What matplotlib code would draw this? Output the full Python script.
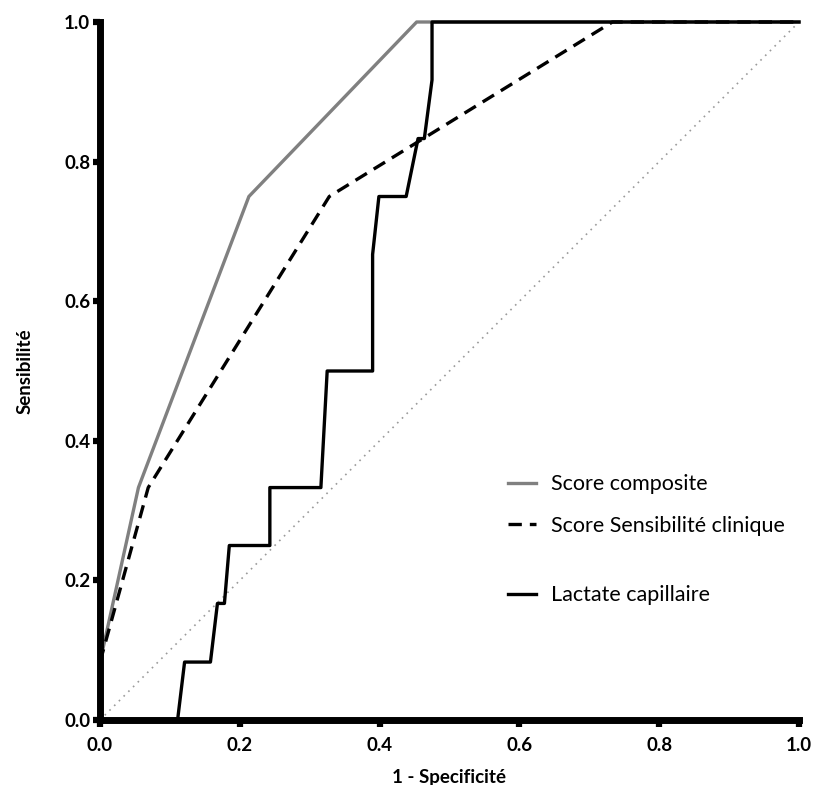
import numpy as np
import matplotlib
matplotlib.use("Agg")
import matplotlib.pyplot as plt

plt.rcParams['font.family'] = ['Lato', 'DejaVu Sans']

# ROC curves (1 - specificity, sensitivity)
composite_x = [0.0, 0.055, 0.213, 0.453, 1.0]
composite_y = [0.083, 0.333, 0.75, 1.0, 1.0]

clinique_x = [0.0, 0.069, 0.328, 0.733, 1.0]
clinique_y = [0.083, 0.333, 0.75, 1.0, 1.0]

lactate_x = [0.111, 0.121, 0.158, 0.168, 0.178, 0.185, 0.243, 0.243, 0.316, 0.325,
             0.390, 0.390, 0.399, 0.438, 0.455, 0.464, 0.475, 0.475, 1.0]
lactate_y = [0.0, 0.083, 0.083, 0.167, 0.167, 0.25, 0.25, 0.333, 0.333, 0.5,
             0.5, 0.667, 0.75, 0.75, 0.833, 0.833, 0.917, 1.0, 1.0]

ref_line = [0.0, 1.0]
ticks = [0.0, 0.2, 0.4, 0.6, 0.8, 1.0]
tick_labels = ['0.0', '0.2', '0.4', '0.6', '0.8', '1.0']

W, H = 818, 785
fig = plt.figure(figsize=(W / 100, H / 100), dpi=100)
ax = fig.add_axes([100 / W, (H - 720) / H, 699 / W, 698 / H])

ax.plot(ref_line, ref_line, color='#9a9a9a', lw=1.2, linestyle=(0, (1, 3)), clip_on=False)
l1, = ax.plot(composite_x, composite_y, color='#808080', lw=2.4, clip_on=False,
              label='Score composite')
l2, = ax.plot(clinique_x, clinique_y, color='black', lw=2.4, dashes=(4, 2.4), clip_on=False,
              label='Score Sensibilité clinique')
l3, = ax.plot(lactate_x, lactate_y, color='black', lw=2.4, clip_on=False,
              label='Lactate capillaire')

ax.set_xlim(0, 1)
ax.set_ylim(0, 1)
ax.set_xticks(ticks)
ax.set_yticks(ticks)
ax.set_xticklabels(tick_labels, fontweight='bold', fontsize=13.5)
ax.set_yticklabels(tick_labels, fontweight='bold', fontsize=13.5)
ax.tick_params(axis='x', length=5, width=4.5, pad=7, direction='out')
ax.tick_params(axis='y', length=5, width=4.5, pad=2, direction='out')

ax.spines['right'].set_visible(False)
ax.spines['top'].set_visible(False)
ax.spines['left'].set_linewidth(5)
ax.spines['bottom'].set_linewidth(5)
ax.spines['left'].set_capstyle('projecting')
ax.spines['bottom'].set_capstyle('projecting')

ax.set_xlabel('1 - Specificité', fontweight='bold', fontsize=13.5, labelpad=11)
ax.set_ylabel('Sensibilité', fontweight='bold', fontsize=13.5, labelpad=22)

leg1 = ax.legend(handles=[l1, l2], loc='center left', bbox_to_anchor=(0.584, 0.308),
                 frameon=False, borderpad=0, borderaxespad=0, fontsize=15.5,
                 handlelength=1.3, handletextpad=0.7, labelspacing=1.0)
ax.add_artist(leg1)
ax.legend(handles=[l3], loc='center left', bbox_to_anchor=(0.584, 0.179),
          frameon=False, borderpad=0, borderaxespad=0, fontsize=15.5,
          handlelength=1.3, handletextpad=0.7)

fig.savefig('out.png', dpi=100)
